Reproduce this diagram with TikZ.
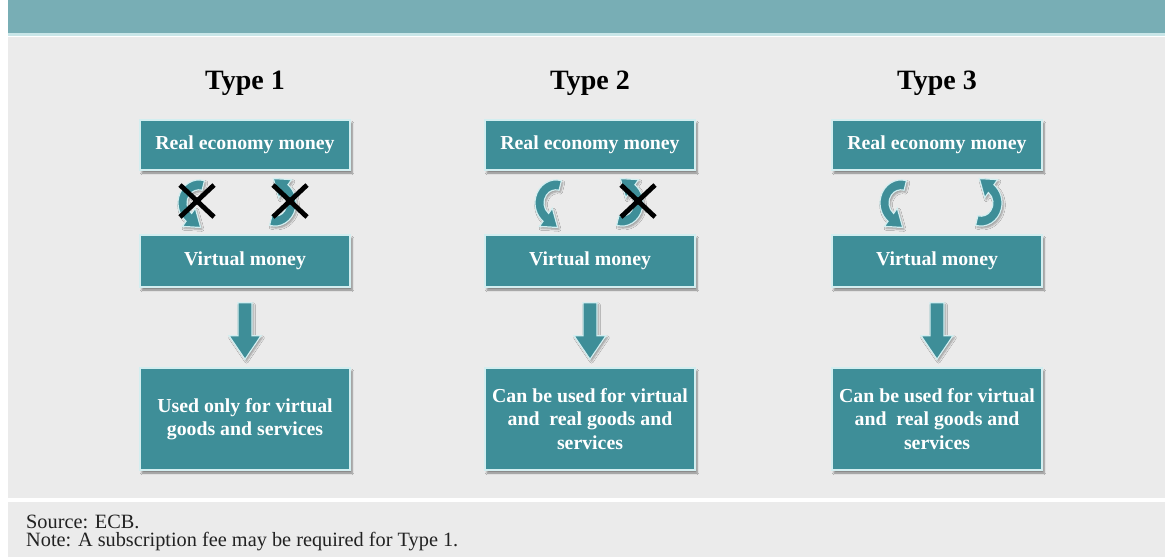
\documentclass[tikz,border=0pt]{standalone}
\usepackage{fontspec}
\setmainfont{Liberation Serif}
\usetikzlibrary{calc,shadows.blur}
\definecolor{hdr}{HTML}{78AEB5}
\definecolor{hdrline}{HTML}{C9E6E8}
\definecolor{panel}{HTML}{EBEBEB}
\definecolor{boxc}{HTML}{3E8E98}
\definecolor{edge}{HTML}{D3EEF0}
\definecolor{foot}{HTML}{222222}
\tikzset{
  box/.style={fill=boxc, draw=edge, line width=1.4pt, text=white,
    font=\bfseries\fontsize{19.8}{23.5}\selectfont, minimum width=210pt,
    align=center, inner sep=0pt,
    blur shadow={shadow xshift=2pt, shadow yshift=-3pt, shadow blur steps=6, shadow opacity=45}},
  title/.style={font=\bfseries\fontsize{28}{32}\selectfont, text=black, anchor=base},
  footnote/.style={font=\fontsize{20.3}{22}\selectfont, text=foot, anchor=base west, inner sep=0pt},
  arrowfill/.style={fill=boxc, draw=edge, line width=1.2pt, line join=miter},
  cross/.style={draw=black, line width=4.8pt},
  curvarrow/.pic={
    \path[arrowfill, blur shadow={shadow xshift=1.5pt, shadow yshift=-2pt, shadow opacity=35}]
      (75:21pt) arc[start angle=75, end angle=232, radius=21pt]
      -- (232:27pt) -- ($(232:16.5pt)+(322:15pt)$) -- (232:6pt)
      -- (232:12pt) arc[start angle=232, end angle=75, radius=12pt] -- cycle;
  }
}
\begin{document}
\begin{tikzpicture}[x=1pt,y=-1pt]
\useasboundingbox (0,0) rectangle (1165,557);
\fill[white] (0,0) rectangle (1165,557);
\fill[hdr] (8,0) rectangle (1165,33);
\fill[hdrline] (8,33) rectangle (1165,35.5);
\fill[panel] (8,37) rectangle (1165,498);
\fill[panel] (8,502) rectangle (1165,557);

% titles
\node[title] (t1) at (245,89) {Type 1};
\node[title] (t2) at (590,89) {Type 2};
\node[title] (t3) at (937,89) {Type 3};

% boxes
\foreach \c/\n in {245/1,590/2,937/3}{
  \node[box, minimum height=50pt] (r\n) at (\c,145) {Real economy money};
  \node[box, minimum height=52pt] (v\n) at (\c,261) {Virtual money};
}
\node[box, minimum height=102pt] (b1) at (245,419) {Used only for virtual\\goods and services};
\node[box, minimum height=102pt] (b2) at (590,419) {Can be used for virtual\\and~ real goods and\\services};
\node[box, minimum height=102pt] (b3) at (937,419) {Can be used for virtual\\and~ real goods and\\services};

% down arrows
\foreach \n in {1,2,3}{
  \path[arrowfill, blur shadow={shadow xshift=1.5pt, shadow yshift=-2pt, shadow opacity=35}]
    ($(v\n.south)+(-7,15)$) -- ($(v\n.south)+(7,15)$) -- ($(v\n.south)+(7,48)$)
    -- ($(v\n.south)+(16,48)$) -- ($(b\n.north)+(0,-8)$) -- ($(v\n.south)+(-16,48)$)
    -- ($(v\n.south)+(-7,48)$) -- cycle;
}

% curved arrows
\pic[yscale=1.1] at (199,203) {curvarrow};
\pic[yscale=1.1, rotate=180] at (275,203) {curvarrow};
\pic[yscale=1.1] at (556,203) {curvarrow};
\pic[yscale=1.1, rotate=180] at (622,203) {curvarrow};
\pic[yscale=1.1] at (901,203) {curvarrow};
\pic[yscale=1.1, rotate=180] at (981,203) {curvarrow};

% crosses
\foreach \x/\nm in {197/xa,290/xb,638/xc}{
  \coordinate (\nm) at (\x,201);
  \draw[cross] ($(\nm)+(-17,-16)$) -- ($(\nm)+(17,16)$);
  \draw[cross] ($(\nm)+(-17,16)$) -- ($(\nm)+(17,-16)$);
}

% footer
\node[footnote] (src) at (26,528) {Source: ECB.};
\node[footnote] (note) at (26,546) {Note: A subscription fee may be required for Type 1.};
\end{tikzpicture}
\end{document}
